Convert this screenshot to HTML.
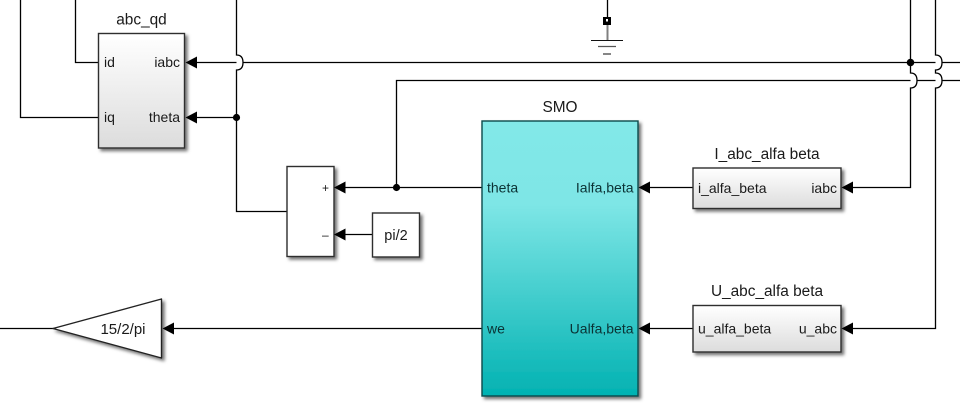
<!DOCTYPE html>
<html>
<head>
<meta charset="utf-8">
<style>
html,body{margin:0;padding:0;background:#fff;width:960px;height:405px;overflow:hidden}
svg{display:block}
text{font-family:"Liberation Sans",Arial,sans-serif;fill:#1a1a1a}
.t{font-size:15.4px;text-anchor:middle}
.p{font-size:14px}
.c{fill:#0b3234}
.e{text-anchor:end}
.w{fill:none;stroke:#000;stroke-width:1.3}
</style>
</head>
<body>
<svg width="960" height="405" viewBox="0 0 960 405" xmlns="http://www.w3.org/2000/svg">
<defs>
<linearGradient id="g" x1="0" y1="0" x2="0" y2="1"><stop offset="0" stop-color="#fff"/><stop offset="1" stop-color="#dcdcdc"/></linearGradient>
<linearGradient id="c" x1="0" y1="0" x2="0" y2="1"><stop offset="0" stop-color="#82e8e8"/><stop offset="0.3" stop-color="#7ee6e6"/><stop offset="1" stop-color="#02b2b2"/></linearGradient>
<filter id="s" x="-20%" y="-20%" width="140%" height="140%"><feDropShadow dx="2.5" dy="2.5" stdDeviation="1.6" flood-color="#000" flood-opacity="0.55"/></filter>
</defs>

<!-- wires -->
<path class="w" d="M20.5 0V117.5H98M75.5 0V62.5H98"/>
<path class="w" d="M236.5 0V55C241 55 243 58 243 62.5C243 67 241 70 236.5 70V211.5H287"/>
<path class="w" d="M197 62.5H236.5M243.500 62.5H935.5M942.500 62.5H960"/>
<path class="w" d="M197 117.5H236.5"/>
<path class="w" d="M345 187.5H482"/>
<path class="w" d="M396.5 187.5V80.5H910.5M917.500 80.5H935.5M942.500 80.5H960"/>
<path class="w" d="M345 234.5H373"/>
<path class="w" d="M649 187.5H693"/>
<path class="w" d="M649 328.5H693"/>
<path class="w" d="M173 328.5H482"/>
<path class="w" d="M0 328.5H54"/>
<path class="w" d="M853 187.5H910.5V88C915 88 917 85 917 80.5C917 76 915 73 910.5 73V0"/>
<path class="w" d="M853 328.5H935.5V88C940 88 942 85 942 80.5C942 76 940 73 935.5 73V70C940 70 942 67 942 62.5C942 58 940 55 935.5 55V0"/>
<path class="w" d="M607.5 0V20"/>

<!-- ground -->
<rect x="603" y="17" width="8" height="8" fill="#000"/>
<rect x="606" y="19" width="2" height="2.500" fill="#fff"/>
<path d="M607.5 25V40" stroke="#808080" stroke-width="2" fill="none"/>
<path d="M591 40.5H623" stroke="#111" stroke-width="1.1" fill="none"/>
<path d="M598 46.5H616" stroke="#555" stroke-width="1.2" fill="none"/>
<path d="M603 54H611" stroke="#222" stroke-width="1.1" fill="none"/>

<!-- blocks -->
<rect x="98.5" y="33.5" width="86" height="114.5" fill="url(#g)" stroke="#2e2e2e" stroke-width="1.4" filter="url(#s)"/>
<rect x="287" y="166.5" width="47" height="90" fill="#fff" stroke="#2e2e2e" stroke-width="1.4" filter="url(#s)"/>
<rect x="372.5" y="213" width="47" height="44" fill="#fff" stroke="#2e2e2e" stroke-width="1.4" filter="url(#s)"/>
<rect x="482" y="121" width="156" height="275" fill="url(#c)" stroke="#0e4a4c" stroke-width="1.4" filter="url(#s)"/>
<rect x="693" y="168" width="148" height="40.5" fill="url(#g)" stroke="#2e2e2e" stroke-width="1.4" filter="url(#s)"/>
<rect x="693" y="305.5" width="148" height="46.5" fill="url(#g)" stroke="#2e2e2e" stroke-width="1.4" filter="url(#s)"/>
<path d="M161.5 299V358L53 328.5Z" fill="#fff" stroke="#222" stroke-width="1.4" stroke-linejoin="round" filter="url(#s)"/>

<!-- arrowheads -->
<g fill="#000">
<path d="M185.5 62.5L197 56.5V68.5Z"/>
<path d="M185.5 117.5L197 111.5V123.5Z"/>
<path d="M334 187.5L345.5 181.5V193.5Z"/>
<path d="M334 234.5L345.5 228.5V240.5Z"/>
<path d="M638.5 187.5L650 181.5V193.5Z"/>
<path d="M638.5 328.5L650 322.5V334.5Z"/>
<path d="M841.5 187.5L853 181.5V193.5Z"/>
<path d="M841.5 328.5L853 322.5V334.5Z"/>
<path d="M162.5 328.5L174 322.5V334.5Z"/>
<circle cx="236.5" cy="117.5" r="3.6"/>
<circle cx="396.5" cy="187.5" r="3.6"/>
<circle cx="910.5" cy="62.5" r="3.8"/>
</g>

<!-- titles -->
<text class="t" x="141.5" y="24.5">abc_qd</text>
<text class="t" x="560" y="112">SMO</text>
<text class="t" x="767" y="159">I_abc_alfa beta</text>
<text class="t" x="767" y="296">U_abc_alfa beta</text>

<!-- port labels -->
<text class="p" x="104" y="67">id</text>
<text class="p e" x="180" y="67">iabc</text>
<text class="p" x="104" y="122">iq</text>
<text class="p e" x="180" y="122">theta</text>
<text x="322" y="192" style="font-size:12px">+</text>
<text x="322" y="239" style="font-size:12px">–</text>
<text x="396" y="240" style="text-anchor:middle;font-size:14.5px">pi/2</text>
<text class="p c" x="487" y="192.500">theta</text>
<text class="p e c" x="633.500" y="192.500">Ialfa,beta</text>
<text class="p c" x="487" y="333.500">we</text>
<text class="p e c" x="633.500" y="333.500">Ualfa,beta</text>
<text class="p" x="698" y="193">i_alfa_beta</text>
<text class="p e" x="837" y="193">iabc</text>
<text class="p" x="698" y="333.500">u_alfa_beta</text>
<text class="p e" x="837" y="333.500">u_abc</text>
<text x="123" y="334" style="font-size:15px;text-anchor:middle">15/2/pi</text>
</svg>
</body>
</html>
